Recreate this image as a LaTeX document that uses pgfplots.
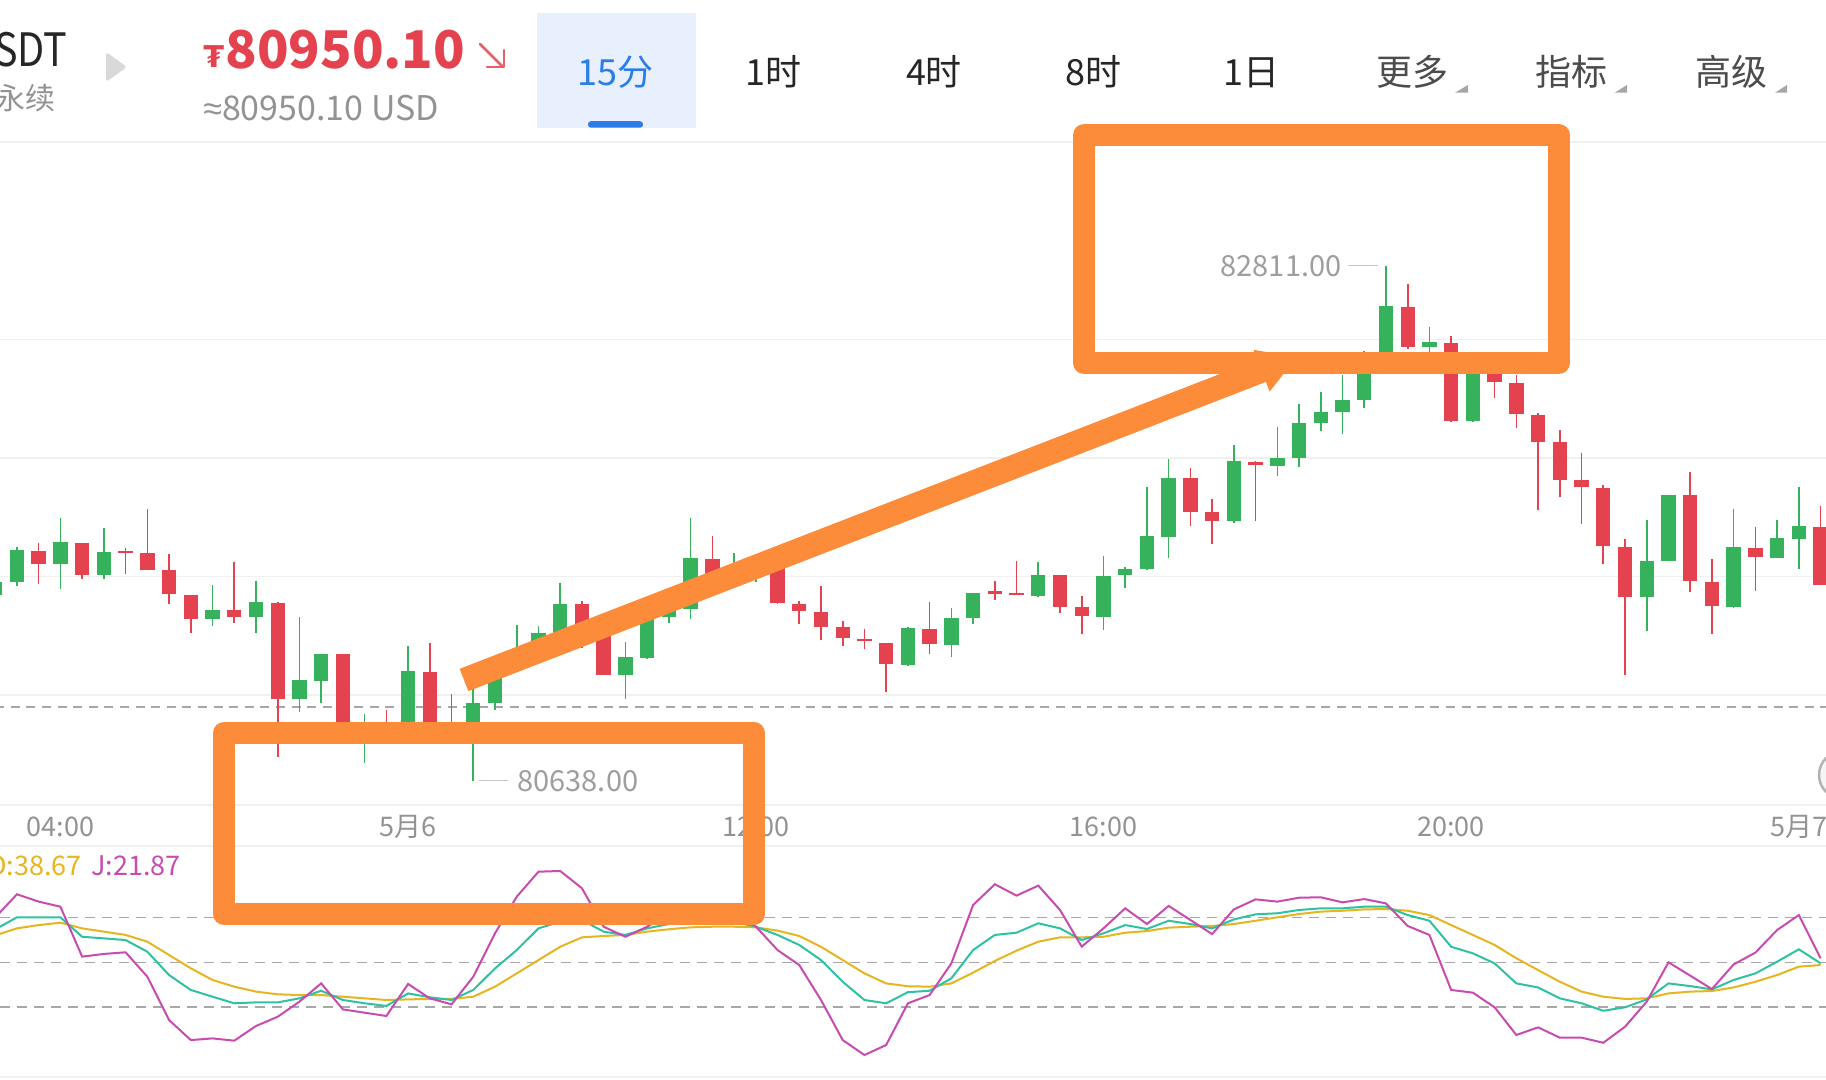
\documentclass[border=0pt]{standalone}
\usepackage{pgfplots}
\pgfplotsset{compat=1.18}
\usepackage{pgfplotstable}
\usepackage{fontspec}
\usetikzlibrary{arrows.meta}
\setmainfont{Noto Sans CJK SC}
\newfontfamily\narrowfont[FakeStretch=0.86]{Noto Sans CJK SC}
\newfontfamily\dejavu{DejaVu Sans}
\newfontfamily\libsans{Liberation Sans}
\definecolor{cgreen}{HTML}{35B25B}
\definecolor{cred}{HTML}{E5424F}
\definecolor{corange}{HTML}{FD8C3A}
\definecolor{ck}{HTML}{2EC2A3}
\definecolor{cd}{HTML}{E6B520}
\definecolor{cj}{HTML}{C84BB0}
\definecolor{gridc}{HTML}{F0F0F0}
\definecolor{dashc}{HTML}{A8A8A8}
\definecolor{labgrey}{HTML}{939393}
\definecolor{cblue}{HTML}{2B7DE9}
\definecolor{tabbg}{HTML}{E7F0FC}

\pgfplotstableread{
i o h l c
-3 81424 81486 81412 81478
-2 81475 81626 81461 81612
0 81551 81748 81449 81646
2 81507 81703 81490 81604
7 81323 81464 81293 81360
9 81330 81483 81264 81390
11 80983 81330 80926 81064
12 81060 81175 80968 81175
14 80831 80920 80713 80860
16 80818 81205 80810 81101
19 80835 81024 80638 80968
20 80968 81086 80938 81079
21 81113 81296 81108 81175
22 81190 81290 81182 81264
23 81256 81474 81249 81385
26 81086 81222 80983 81160
27 81157 81353 81153 81338
28 81330 81397 81305 81360
29 81363 81748 81320 81578
31 81493 81600 81450 81538
32 81538 81569 81477 81545
39 81126 81286 81123 81282
41 81212 81367 81163 81326
42 81326 81431 81301 81431
45 81419 81560 81415 81508
48 81330 81586 81276 81504
49 81504 81541 81453 81530
50 81530 81878 81530 81671
51 81668 81996 81581 81918
54 81733 82053 81726 81989
56 81967 82133 81925 82001
57 82001 82229 81964 82147
58 82147 82278 82115 82196
59 82196 82352 82100 82244
60 82244 82451 82211 82433
61 82433 82811 82426 82640
63 82466 82554 82445 82488
65 82155 82448 82152 82389
73 81412 81737 81271 81564
74 81564 81844 81564 81844
77 81370 81785 81367 81622
79 81579 81740 81579 81660
80 81660 81878 81533 81712
}\greentab

\pgfplotstableread{
i o h l c
-1 81609 81641 81471 81552
1 81644 81644 81490 81508
3 81607 81622 81512 81601
4 81601 81785 81530 81530
5 81530 81597 81385 81427
6 81424 81424 81264 81323
8 81360 81564 81305 81330
10 81390 81390 80738 80983
13 81172 81172 80820 80831
15 80860 80938 80810 80818
17 81098 81222 80820 80831
18 80873 81005 80825 80835
24 81382 81397 81197 81219
25 81271 81293 81083 81086
30 81575 81671 81478 81486
33 81548 81567 81382 81390
34 81385 81397 81301 81356
35 81353 81459 81234 81290
36 81286 81311 81205 81242
37 81237 81279 81193 81227
38 81219 81219 81015 81131
40 81279 81394 81175 81216
43 81434 81483 81401 81430
44 81430 81567 81422 81422
46 81505 81505 81345 81372
47 81370 81419 81259 81335
52 81915 81959 81715 81774
53 81770 81829 81637 81734
55 81985 81985 81733 81970
62 82637 82736 82460 82467
64 82485 82514 82152 82155
66 82366 82389 82255 82319
67 82318 82352 82127 82186
68 82184 82189 81782 82070
69 82066 82119 81834 81908
70 81906 82019 81723 81877
71 81875 81885 81552 81629
72 81626 81659 81086 81415
75 81844 81940 81434 81481
76 81478 81575 81256 81375
78 81619 81711 81438 81582
81 81711 81797 81464 81464
}\redtab

\pgfplotstableread{
i K D J
-3 72 68 80
-2 80.1 72.7 95.5
-1 80.1 74.9 90.6
0 80.1 76.5 87.2
1 67.1 72.7 53.8
2 66.0 70.5 55.6
3 64.9 68.3 56.7
4 57.1 63.8 40.4
5 41.5 54.9 11.4
6 31.5 46.0 -2.0
7 27.0 38.2 -0.9
8 22.6 33.7 -2.4
9 23.2 30.4 7.4
10 23.2 28.6 13.6
11 25.9 28.1 23.7
12 31.0 28.1 35.9
13 24.8 27.0 18.5
14 22.6 25.9 16.3
15 20.8 24.8 14.1
16 29.2 25.2 35.5
17 26.6 25.5 25.9
18 24.8 25.5 21.9
19 31.5 27.0 40.4
20 45.9 33.7 69.4
21 58.2 42.6 93.9
22 72.7 51.5 110.6
23 77.2 60.4 111.1
24 78.3 66.7 99.5
25 70.5 67.6 73.8
26 68.3 68.3 67.1
27 72.7 70.5 73.8
28 75.6 72.1 83
29 77.2 73.4 88
30 77.8 73.8 86
31 77.2 73.8 84
32 73.8 73.4 74
33 68.3 71.2 58.2
34 61.6 67.6 48.2
35 51.5 60.4 24.8
36 37.0 51.5 -2.0
37 24.8 42.6 -12.0
38 22.6 35.9 -5.3
39 30.0 34.0 22.6
40 31.0 33.7 28.1
41 39.3 35.9 49.3
42 58.2 43.1 88.3
43 68.3 50.9 102.2
44 69.8 57.8 94.6
45 76.1 63.8 101.3
46 72.7 66.7 85.0
47 64.9 66.7 60.5
48 69.4 67.1 72.7
49 74.9 69.8 86.1
50 72.3 70.9 75.6
51 77.8 73.2 87.7
52 75.6 73.8 78.3
53 72.7 74.3 68.9
54 78.7 75.6 85.4
55 82.1 77.8 92.1
56 82.8 80.1 90.6
57 85.0 82.3 93.2
58 86.1 83.9 93.5
59 86.1 84.5 90.1
60 87.2 85.4 92.3
61 87.2 85.6 89.4
62 81.6 84.5 74.3
63 77.8 81.6 68.3
64 60.4 74.9 31.5
65 56.0 68.3 29.7
66 49.3 61.6 19.9
67 35.9 52.7 1.4
68 33.2 44.8 6.5
69 25.9 37.0 -0.4
70 22.6 30.4 -0.4
71 17.6 27.0 -3.8
72 19.9 25.5 6.9
73 25.2 25.9 23.7
74 35.9 29.2 50.0
75 34.1 30.4 41.1
76 31.9 30.8 32.1
77 38.2 33.2 48.6
78 42.6 37.0 56.5
79 50.4 41.5 71.6
80 58.7 47.1 81.6
81 49.3 48.2 52.7
}\kdjtab

\begin{document}
\begin{tikzpicture}[x=0.5pt,y=0.5pt]
\useasboundingbox (0,0) rectangle (1826,1080);
\clip (0,0) rectangle (1826,1080);
\fill[white] (0,0) rectangle (1826,1080);

% ---------- header ----------
\fill[tabbg] (537,952.3) rectangle (696,1067.3);
\fill[cblue, rounded corners=1.5pt] (588,952.3) rectangle (643,958.8);
\node[anchor=base east, inner sep=0pt, text=black!85, font=\narrowfont\fontsize{23pt}{26pt}\selectfont] at (68,1013) {USDT};
\node[anchor=base west, inner sep=0pt, text=labgrey, font=\fontsize{15pt}{18pt}\selectfont] at (-5,970.5) {永续};
\fill[black!15, rounded corners=1.5pt] (106,1028) -- (106,998) -- (127,1013) -- cycle;
\node[anchor=base west, inner sep=0pt, text=cred, font=\dejavu\bfseries\fontsize{15pt}{18pt}\selectfont] at (203,1012) {₮};
\node[anchor=base west, inner sep=0pt, text=cred, font=\bfseries\fontsize{26pt}{30pt}\selectfont] at (225,1011) {80950.10};
\draw[cred!85, line width=1.3pt, line cap=round] (480,1036) -- (503,1013);
\draw[cred!85, line width=1.3pt, line cap=round, line join=round] (487,1013) -- (504,1013) -- (504,1030);
\node[anchor=base west, inner sep=0pt, text=labgrey, font=\fontsize{17pt}{20pt}\selectfont] at (203,959) {{\libsans ≈}80950.10 USD};
\begin{scope}[every node/.style={anchor=base, inner sep=0pt, font=\fontsize{18pt}{21pt}\selectfont}]
\node[text=cblue] at (615.5,994.5) {15分};
\node[text=black!85] at (773.5,994.5) {1时};
\node[text=black!85] at (934,994.5) {4时};
\node[text=black!85] at (1093,994.5) {8时};
\node[text=black!85] at (1251,994.5) {1日};
\node[text=black!70] at (1412,994.5) {更多};
\node[text=black!70] at (1571,994.5) {指标};
\node[text=black!70] at (1731,994.5) {高级};
\end{scope}
\fill[black!35] (1455,987.3) -- (1468,987.3) -- (1468,995) -- cycle;
\fill[black!35] (1614.7,987.3) -- (1627,987.3) -- (1627,995) -- cycle;
\fill[black!35] (1775,987.3) -- (1787,987.3) -- (1787,995) -- cycle;

% ---------- main candle axis ----------
\begin{axis}[
  at={(0pt,137.5pt)}, anchor=south west, scale only axis,
  width=913pt, height=331.5pt,
  xmin=-2.78, xmax=81.25, ymin=80535.5, ymax=83332.9,
  axis line style={draw=none},
  major tick length=0pt,
  scaled y ticks=false, scaled x ticks=false,
  ytick={81000,81500,82000,82500}, yticklabels={},
  ymajorgrids, grid style={draw=gridc, line width=0.7pt},
  xtick={0,16,32,48,64,80},
  xticklabels={04:00,5月6,12:00,16:00,20:00,5月7},
  xticklabel style={anchor=center, yshift=-11pt, text=labgrey, font=\fontsize{13.5pt}{16pt}\selectfont},
  clip=true,
]
\addplot[draw=dashc, dash pattern=on 4.5pt off 3.3pt, line width=0.8pt, forget plot] coordinates {(-3,80950.1) (82,80950.1)};
\addplot[draw=none, mark=none, forget plot, error bars/.cd, y dir=both, y explicit, error mark=none,
  error bar style={line width=0.8pt, draw=cgreen, solid}]
  table[x=i, y expr={(\thisrow{h}+\thisrow{l})/2}, y error expr={(\thisrow{h}-\thisrow{l})/2}] {\greentab};
\addplot[draw=none, mark=none, forget plot, error bars/.cd, y dir=both, y explicit, error mark=none,
  error bar style={line width=0.8pt, draw=cred, solid}]
  table[x=i, y expr={(\thisrow{h}+\thisrow{l})/2}, y error expr={(\thisrow{h}-\thisrow{l})/2}] {\redtab};
\addplot[draw=none, mark=none, forget plot, error bars/.cd, y dir=both, y explicit, error mark=none,
  error bar style={line width=7.2pt, draw=cgreen, solid}]
  table[x=i, y expr={(\thisrow{o}+\thisrow{c})/2}, y error expr={max(abs(\thisrow{c}-\thisrow{o})/2,4.5)}] {\greentab};
\addplot[draw=none, mark=none, forget plot, error bars/.cd, y dir=both, y explicit, error mark=none,
  error bar style={line width=7.2pt, draw=cred, solid}]
  table[x=i, y expr={(\thisrow{o}+\thisrow{c})/2}, y error expr={max(abs(\thisrow{c}-\thisrow{o})/2,4.5)}] {\redtab};
% high / low markers
\draw[black!22, line width=0.6pt] ([xshift=-4pt]axis cs:61,82811) -- ++(-15pt,0pt)
  node[anchor=east, xshift=-3pt, inner sep=0pt, text=black!38, font=\fontsize{14.5pt}{17pt}\selectfont] {82811.00};
\draw[black!22, line width=0.6pt] ([xshift=3pt]axis cs:19,80638) -- ++(14.5pt,0pt)
  node[anchor=west, xshift=4.3pt, inner sep=0pt, text=black!38, font=\fontsize{14.5pt}{17pt}\selectfont] {80638.00};
\end{axis}

% ---------- KDJ axis ----------
\begin{axis}[
  at={(0pt,1.5pt)}, anchor=south west, scale only axis,
  width=913pt, height=115.5pt,
  xmin=-2.78, xmax=81.25, ymin=-26.7, ymax=127.8,
  axis line style={draw=none}, major tick length=0pt,
  scaled y ticks=false,
  xtick=\empty, ytick={20,50,80}, yticklabels={},
  ymajorgrids, grid style={draw=dashc, dash pattern=on 5pt off 3.5pt, line width=0.8pt},
  clip=true,
]
\addplot[cd, line width=1pt, mark=none] table[x=i, y=D] {\kdjtab};
\addplot[ck, line width=1pt, mark=none] table[x=i, y=K] {\kdjtab};
\addplot[cj, line width=1pt, mark=none] table[x=i, y=J] {\kdjtab};
\end{axis}

% ---------- separators ----------
\draw[gridc, line width=0.8pt] (0,938) -- (1826,938);
\draw[gridc, line width=0.8pt] (0,275) -- (1826,275);
\draw[gridc, line width=0.8pt] (0,234) -- (1826,234);
\draw[gridc, line width=0.8pt] (0,3) -- (1826,3);

% KDJ legend
\node[anchor=base east, inner sep=0pt, text=cd, font=\fontsize{13.5pt}{16pt}\selectfont] at (82,204) {K:30.12 D:38.67};
\node[anchor=base west, inner sep=0pt, text=cj, font=\fontsize{13.5pt}{16pt}\selectfont] at (91,204) {J:21.87};

% right edge button
\filldraw[fill=black!4, draw=black!30, line width=1.2pt] (1843,305) circle (24);

% ---------- orange annotations ----------
\draw[corange, line width=11pt, line join=round] (224,347) rectangle (754,166);
\draw[corange, line width=11pt, line join=round] (1084,945) rectangle (1558.7,717);
\draw[corange, line width=12pt, -{Triangle[length=19pt, width=21pt]}] (464,400) -- (1297,723);
\end{tikzpicture}
\end{document}
